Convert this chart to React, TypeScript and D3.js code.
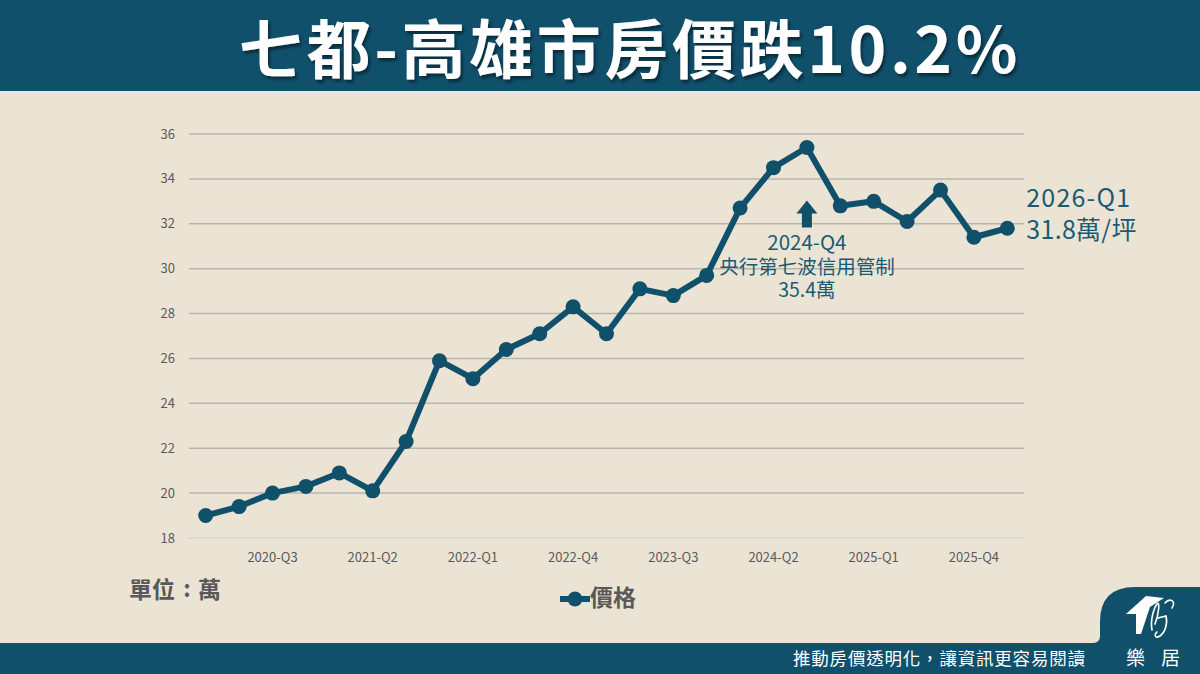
import React from 'react'
import * as d3 from 'd3'

const quarters = [
  '2020-Q1', '2020-Q2', '2020-Q3', '2020-Q4',
  '2021-Q1', '2021-Q2', '2021-Q3', '2021-Q4',
  '2022-Q1', '2022-Q2', '2022-Q3', '2022-Q4',
  '2023-Q1', '2023-Q2', '2023-Q3', '2023-Q4',
  '2024-Q1', '2024-Q2', '2024-Q3', '2024-Q4',
  '2025-Q1', '2025-Q2', '2025-Q3', '2025-Q4',
  '2026-Q1',
]
const prices = [
  19.0, 19.4, 20.0, 20.3, 20.9, 20.1, 22.3, 25.9, 25.1, 26.4, 27.1, 28.3,
  27.1, 29.1, 28.8, 29.7, 32.7, 34.5, 35.4, 32.8, 33.0, 32.1, 33.5, 31.4, 31.8,
]
const xTickLabels = ['2020-Q3', '2021-Q2', '2022-Q1', '2022-Q4', '2023-Q3', '2024-Q2', '2025-Q1', '2025-Q4']
const yTicks = [18, 20, 22, 24, 26, 28, 30, 32, 34, 36]

const title = '七都-高雄市房價跌10.2%'
const peakNote = ['2024-Q4', '央行第七波信用管制', '35.4萬']
const lastNote = ['2026-Q1', '31.8萬/坪']
const seriesName = '價格'
const unitParts = ['單位', ':', '萬']
const footerText = '推動房價透明化，讓資訊更容易閱讀'

const W = 1200
const H = 674
const navy = '#10506b'
const noteColor = '#1b5a74'
const bg = '#ebe4d5'
const font = '"Noto Sans CJK TC", "Noto Sans", sans-serif'

export default function App() {
  const x = d3.scaleBand<string>().domain(quarters).range([189, 1024])
  const cx = (q: string) => (x(q) ?? 0) + x.bandwidth() / 2
  const y = d3.scaleLinear().domain([18, 36]).range([538, 134])

  const line = d3
    .line<number>()
    .x((_, i) => cx(quarters[i]))
    .y((d) => y(d))

  const peakIdx = prices.indexOf(d3.max(prices) as number)
  const px = cx(quarters[peakIdx])
  const py = y(prices[peakIdx])
  const lastIdx = prices.length - 1
  const lx = cx(quarters[lastIdx])
  const ly = y(prices[lastIdx])

  return (
    <svg
      width={W}
      height={H}
      viewBox={`0 0 ${W} ${H}`}
      style={{ position: 'absolute', left: 0, top: 0, fontFamily: font }}
    >
      <defs>
        <filter id="tshadow" x="-5%" y="-20%" width="110%" height="150%">
          <feDropShadow dx="2" dy="3" stdDeviation="1.5" floodColor="#000" floodOpacity="0.45" />
        </filter>
      </defs>
      <rect width={W} height={H} fill={bg} />

      {/* header */}
      <rect width={W} height={91} fill={navy} />
      <text
        x={630}
        y={73}
        textAnchor="middle"
        fill="#fff"
        fontSize={64}
        fontWeight={700}
        letterSpacing={3.6}
        filter="url(#tshadow)"
      >
        {title}
      </text>

      {/* grid + y labels */}
      {yTicks.map((t) => (
        <g key={t}>
          <line
            x1={189}
            x2={1024}
            y1={y(t)}
            y2={y(t)}
            stroke={t === 18 ? '#d6d2cc' : '#bbb3ae'}
            strokeWidth={1.5}
          />
          <text x={175} y={y(t) + 4.5} textAnchor="end" fontSize={13} fill="#595959">
            {t}
          </text>
        </g>
      ))}

      {/* x labels */}
      {xTickLabels.map((q) => (
        <text key={q} x={cx(q)} y={562} textAnchor="middle" fontSize={13} fill="#595959">
          {q}
        </text>
      ))}

      {/* series */}
      <path d={line(prices) || ''} fill="none" stroke={navy} strokeWidth={6} strokeLinejoin="round" />
      {prices.map((v, i) => (
        <circle key={quarters[i]} cx={cx(quarters[i])} cy={y(v)} r={7.5} fill={navy} />
      ))}

      {/* peak annotation */}
      <path
        d={`M${px},${py + 53} L${px + 10.5},${py + 66} L${px + 5},${py + 66} L${px + 5},${py + 80} L${px - 5},${py + 80} L${px - 5},${py + 66} L${px - 10.5},${py + 66} Z`}
        fill={navy}
      />
      {peakNote.map((s, i) => (
        <text
          key={s}
          x={px}
          y={py + 103 + i * 23.5}
          textAnchor="middle"
          fontSize={i === 0 ? 20.5 : 19.5}
          fill={noteColor}
        >
          {s}
        </text>
      ))}

      {/* last annotation */}
      {lastNote.map((s, i) => (
        <text
          key={s}
          x={lx + 19}
          y={ly - 21 + i * 31.5}
          fontSize={25}
          letterSpacing={i === 0 ? 1.2 : 0.3}
          fill={noteColor}
        >
          {s}
        </text>
      ))}

      {/* unit + legend */}
      <g fontSize={23} fontWeight={700} fill="#595959">
        <text x={129} y={598}>{unitParts[0]}</text>
        <text x={187} y={597} textAnchor="middle">{unitParts[1]}</text>
        <text x={198} y={598}>{unitParts[2]}</text>
      </g>
      <line x1={560} x2={590} y1={599} y2={599} stroke={navy} strokeWidth={6} />
      <circle cx={575} cy={599} r={7.5} fill={navy} />
      <text x={590} y={606} fontSize={23} fontWeight={700} fill="#595959">
        {seriesName}
      </text>

      {/* footer */}
      <rect y={643} width={W} height={H - 643} fill={navy} />
      <path
        d="M1093,643 Q1100,643 1100,636 L1100,622 Q1100,587 1135,587 L1200,587 L1200,643 Z"
        fill={navy}
      />
      <text x={793} y={665} fontSize={17.5} letterSpacing={0.8} fill="#fff">
        {footerText}
      </text>

      {/* logo */}
      <path d="M1126,614 L1146,596 L1164,598 L1150,607 L1141,634 L1136,634 L1136,614 Z" fill="#fff" />
      <path
        d="M1152,630 C1150,620 1154,608 1157,604 C1160,600 1159,614 1155,624 M1158,618 L1166,616 C1168,624 1165,634 1158,637 C1155,638 1154,634 1157,632 M1165,603 C1169,598 1177,600 1172,608"
        fill="none"
        stroke="#fff"
        strokeWidth={1.6}
        strokeLinecap="round"
      />
      <text x={1126} y={665} fontSize={19} fill="#fff">
        樂
      </text>
      <text x={1161} y={665} fontSize={19} fill="#fff">
        居
      </text>
    </svg>
  )
}
